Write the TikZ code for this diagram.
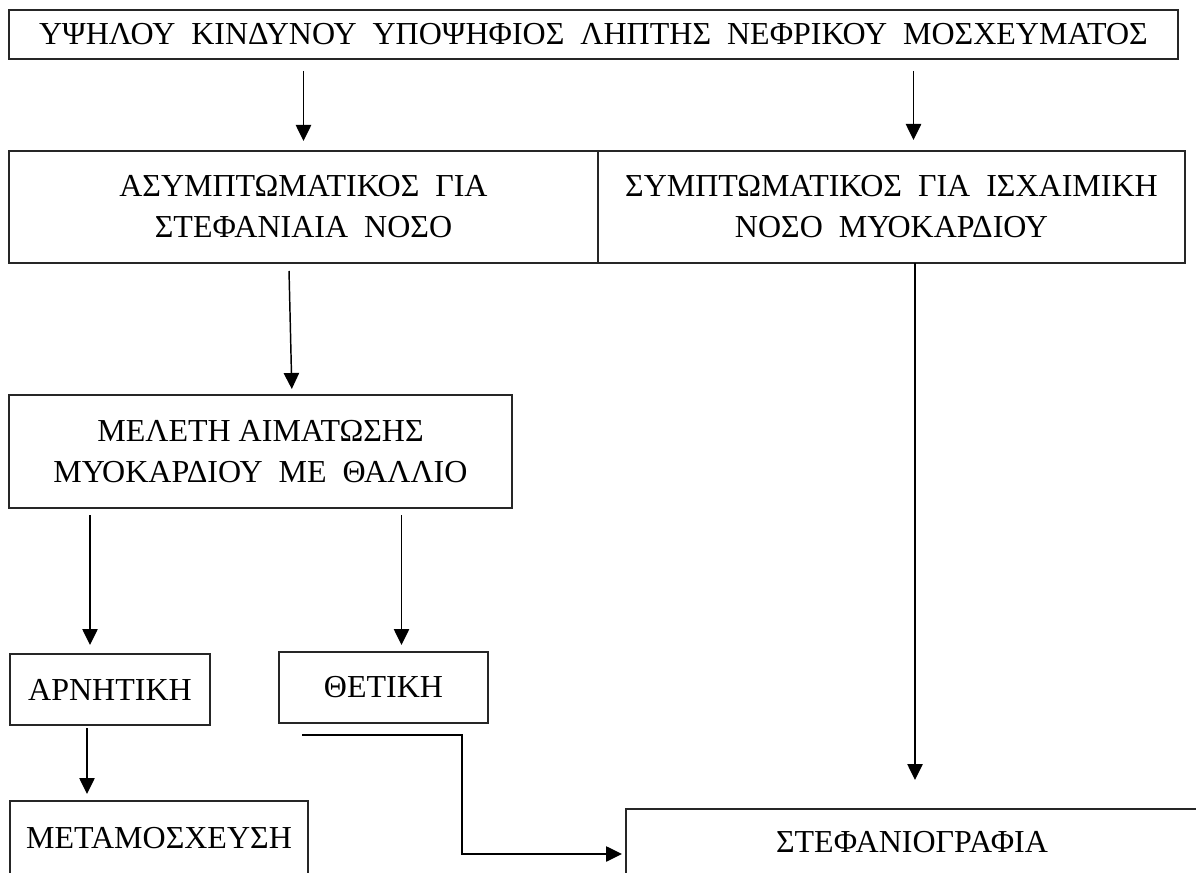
\documentclass[tikz,border=0pt]{standalone}
\usepackage{fontspec}
\setmainfont{Liberation Serif}
\usepackage{tikz}
\usetikzlibrary{arrows.meta,positioning,calc}

\begin{document}
\begin{tikzpicture}[x=0.75pt,y=-0.75pt,node distance=0pt,
  boxnode/.style={draw=black!85,line width=0.9pt,inner sep=0pt,outer sep=0pt,anchor=north west,align=center,font=\fontsize{24}{30.75}\selectfont},
  arr/.style={line width=1.1pt,-{Triangle[length=12pt,width=11.5pt]}}]
  \useasboundingbox (0,0) rectangle (1196,873);
  \clip (0,0) rectangle (1196,873);
  \node[boxnode,minimum width=876.75pt,minimum height=36.75pt] (top) at (9,10) {ΥΨΗΛΟΥ~ ΚΙΝΔΥΝΟΥ~ ΥΠΟΨΗΦΙΟΣ~ ΛΗΠΤΗΣ~ ΝΕΦΡΙΚΟΥ~ ΜΟΣΧΕΥΜΑΤΟΣ};
  \node[boxnode,minimum width=441.75pt,minimum height=84pt] (asym) at (9,151) {ΑΣΥΜΠΤΩΜΑΤΙΚΟΣ~ ΓΙΑ\\ΣΤΕΦΑΝΙΑΙΑ~ ΝΟΣΟ};
  \node[boxnode,minimum width=440.25pt,minimum height=84pt,right=of asym] (sympt) {ΣΥΜΠΤΩΜΑΤΙΚΟΣ~ ΓΙΑ~ ΙΣΧΑΙΜΙΚΗ\\ΝΟΣΟ~ ΜΥΟΚΑΡΔΙΟΥ};
  \node[boxnode,minimum width=377.25pt,minimum height=84.75pt] (meleti) at (9,395) {ΜΕΛΕΤΗ ΑΙΜΑΤΩΣΗΣ\\ΜΥΟΚΑΡΔΙΟΥ~ ΜΕ~ ΘΑΛΛΙΟ};
  \node[boxnode,minimum width=150pt,minimum height=53.25pt] (arn) at (10,654) {ΑΡΝΗΤΙΚΗ};
  \node[boxnode,minimum width=156.75pt,minimum height=53.25pt] (thet) at (279,652) {ΘΕΤΙΚΗ};
  \node[boxnode,minimum width=223.5pt,minimum height=55.5pt] (meta) at (10,801) {ΜΕΤΑΜΟΣΧΕΥΣΗ};
  \node[boxnode,minimum width=429pt,minimum height=49.5pt] (stef) at (626,809) {ΣΤΕΦΑΝΙΟΓΡΑΦΙΑ};
  % arrows
  \draw[arr,shorten <=9pt,shorten >=7.5pt] (top.south -| asym.north) -- (asym.north);
  \draw[arr,shorten <=9pt,shorten >=8.25pt] ([xshift=16.5pt]top.south -| sympt.north) -- ([xshift=16.5pt]sympt.north);
  \draw[arr,shorten <=6pt,shorten >=4.5pt] ([xshift=-11pt]asym.south) -- ([xshift=23.6pt]meleti.north);
  \draw[arr,shorten <=5.25pt,shorten >=6.75pt] ([xshift=-15pt]arn.north |- meleti.south) -- ([xshift=-15pt]arn.north);
  \draw[arr,shorten <=5.25pt,shorten >=5.25pt] ([xshift=13.5pt]thet.north |- meleti.south) -- ([xshift=13.5pt]thet.north);
  \draw[arr,shorten <=2.25pt,shorten >=5.25pt] ([xshift=-17.25pt]arn.south) -- ([xshift=-17.25pt]arn.south |- meta.north);
  \draw[arr,shorten >=21.75pt] ([xshift=2.25pt]stef.north |- sympt.south) -- ([xshift=2.25pt]stef.north);
  \draw[arr,shorten >=3pt] ([xshift=17.25pt,yshift=-9pt]thet.south west) -- ++(160,0) |- ([yshift=-9pt]stef.west);
\end{tikzpicture}
\end{document}
